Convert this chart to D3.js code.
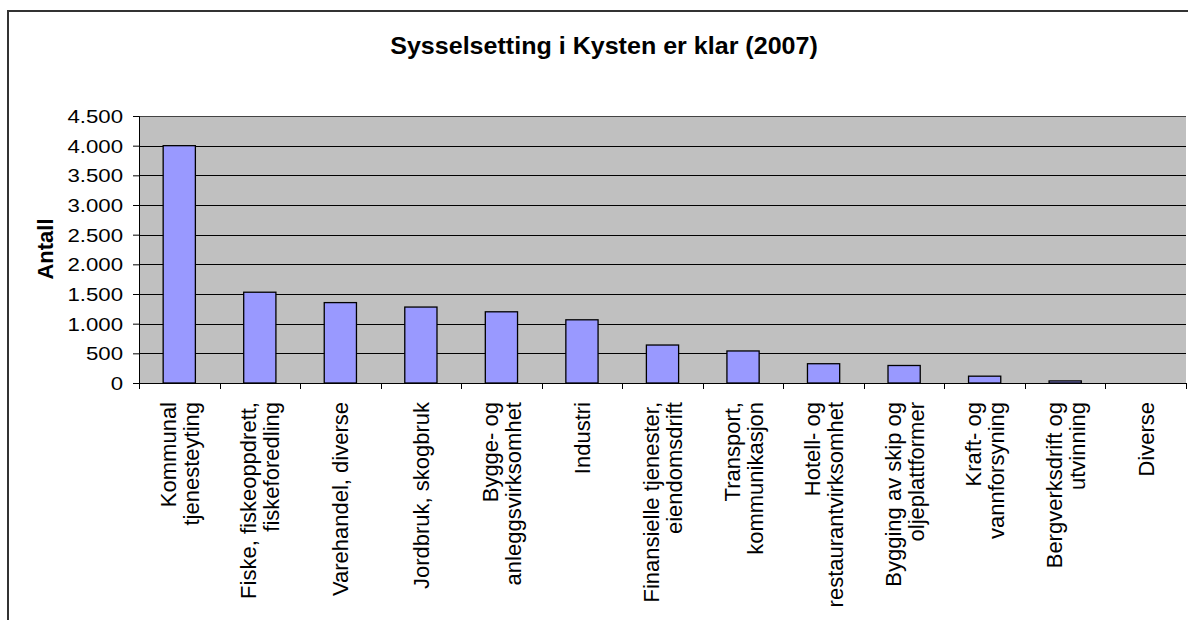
<!DOCTYPE html>
<html><head><meta charset="utf-8">
<script src="https://cdn.jsdelivr.net/npm/d3@7"></script>
<style>html,body{margin:0;padding:0;background:#fff;}svg{display:block;font-family:"Liberation Sans",Arial,sans-serif;}</style>
</head><body><svg id="c" width="1188" height="620"></svg>
<script>
const title = "Sysselsetting i Kysten er klar (2007)";
const yTitle = "Antall";
const categories = [
  ["Kommunal","tjenesteyting"],
  ["Fiske, fiskeoppdrett,","fiskeforedling"],
  ["Varehandel, diverse"],
  ["Jordbruk, skogbruk"],
  ["Bygge- og","anleggsvirksomhet"],
  ["Industri"],
  ["Finansielle tjenester,","eiendomsdrift"],
  ["Transport,","kommunikasjon"],
  ["Hotell- og","restaurantvirksomhet"],
  ["Bygging av skip og","oljeplattformer"],
  ["Kraft- og","vannforsyning"],
  ["Bergverksdrift og","utvinning"],
  ["Diverse"]
];
const values = [4000, 1530, 1355, 1280, 1200, 1065, 640, 540, 325, 295, 115, 35, 0];
const yTicks = [0, 500, 1000, 1500, 2000, 2500, 3000, 3500, 4000, 4500];

const svg = d3.select("#c");
const L = 139, R = 1186, T = 116, B = 383;
const fmt = v => d3.format(",")(v).replace(/,/g, ".");

// outer border
svg.append("path").attr("d", "M8,630 L8,11 L1200,11").attr("fill","none").attr("stroke","#333").attr("stroke-width",2);

const x = d3.scaleBand().domain(d3.range(categories.length)).range([L, R]).paddingInner(0.6).paddingOuter(0.3);
const y = d3.scaleLinear().domain([0, 4500]).range([B, T]);

svg.append("rect").attr("x", L).attr("y", T).attr("width", R - L).attr("height", B - T).attr("fill", "#C0C0C0");

svg.append("g").selectAll("line").data(yTicks.filter(d => d > 0)).join("line")
  .attr("x1", L).attr("x2", R).attr("y1", d => Math.round(y(d)) + 0.5).attr("y2", d => Math.round(y(d)) + 0.5)
  .attr("stroke", d => d === 4500 ? "#444" : "#000").attr("stroke-width", 1);

svg.append("g").selectAll("rect").data(values).join("rect")
  .attr("x", (d, i) => x(i)).attr("width", x.bandwidth())
  .attr("y", d => y(d)).attr("height", d => B - y(d))
  .attr("fill", "#9999FF").attr("stroke", "#000").attr("stroke-width", 1.3);

// y axis
const ya = svg.append("g").attr("transform", `translate(${L},0)`)
  .call(d3.axisLeft(y).tickValues(yTicks).tickSize(6).tickFormat(fmt));
ya.select(".domain").attr("stroke", "#000");
ya.selectAll(".tick line").attr("stroke", "#000");
ya.selectAll(".tick text").attr("font-size", 18.5).attr("fill", "#000")
  .attr("font-family", "Liberation Sans, Arial, sans-serif")
  .attr("x", 0).attr("dy", "0.36em")
  .attr("transform", "translate(-16,0) scale(1.2,1)");

// x axis with ticks at band boundaries
const bounds = d3.range(categories.length + 1).map(i => L + i * (R - L) / categories.length);
svg.append("line").attr("x1", L).attr("x2", R).attr("y1", B + 0.5).attr("y2", B + 0.5).attr("stroke", "#000");
svg.append("g").selectAll("line").data(bounds).join("line")
  .attr("x1", d => Math.round(d) + 0.5).attr("x2", d => Math.round(d) + 0.5)
  .attr("y1", B).attr("y2", B + 6).attr("stroke", "#000");

// x labels
const lh = 23;
const lab = svg.append("g").selectAll("g").data(categories).join("g")
  .attr("transform", (d, i) => `translate(${x(i) + x.bandwidth() / 2},402) rotate(-90)`);
lab.each(function(lines) {
  const g = d3.select(this);
  const n = lines.length;
  lines.forEach((t, k) => {
    g.append("text").attr("x", 0).attr("y", (k - (n - 1) / 2) * lh + 8)
      .attr("text-anchor", "end").attr("font-size", 22).attr("fill", "#000").text(t);
  });
});

// titles
svg.append("text").attr("transform", "translate(604,54) scale(1.09,1)").attr("text-anchor", "middle")
  .attr("font-size", 23).attr("font-weight", "bold").attr("fill", "#000").text(title);
svg.append("text").attr("transform", "translate(53,249) rotate(-90)").attr("text-anchor", "middle")
  .attr("font-size", 22).attr("font-weight", "bold").attr("fill", "#000").text(yTitle);
</script></body></html>
